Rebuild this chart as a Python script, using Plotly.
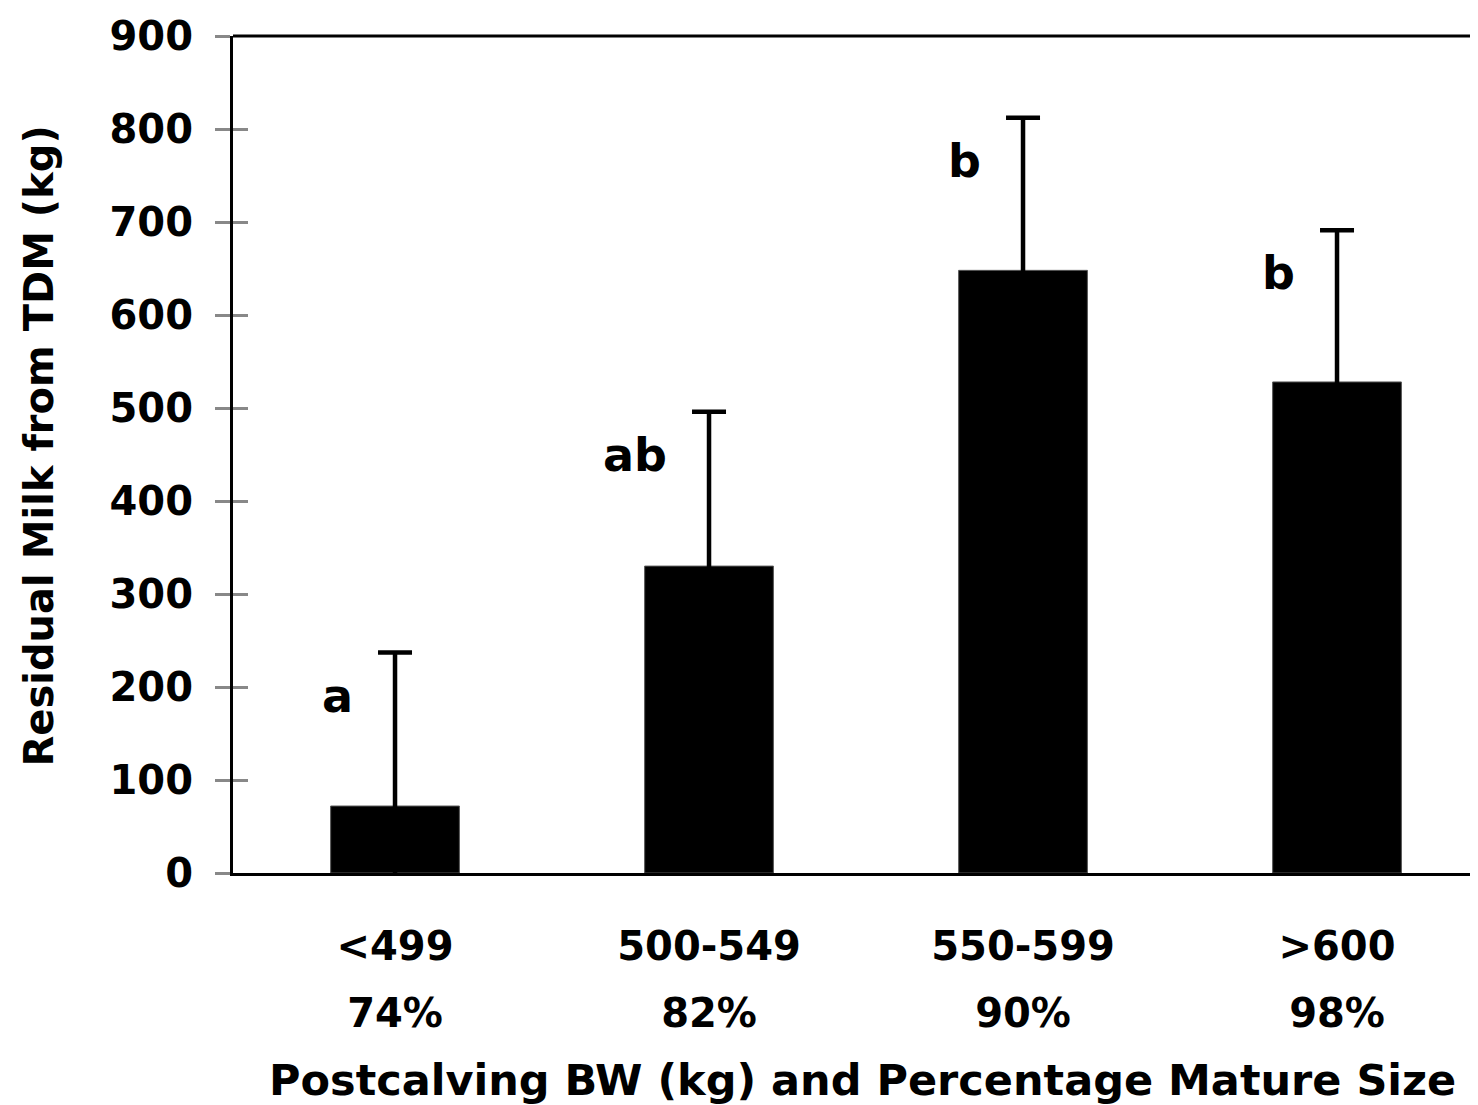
import plotly.graph_objects as go

categories = ["<499", "500-549", "550-599", ">600"]
pct_labels = ["74%", "82%", "90%", "98%"]
means = [72, 330, 648, 528]
se = [165, 166, 164, 163]
letters = ["a", "ab", "b", "b"]

FONT = "DejaVu Sans"
idx = list(range(len(categories)))

fig = go.Figure()
fig.add_trace(go.Bar(
    x=idx, y=means, width=0.41,
    marker=dict(color="black", line=dict(color="#555555", width=1)),
    error_y=dict(type="data", array=se, symmetric=True,
                 color="black", thickness=4.5, width=17),
    showlegend=False,
))
# invisible trace on second x axis for percentage tick row
fig.add_trace(go.Scatter(x=idx, y=means, xaxis="x2", yaxis="y2", mode="markers",
                         marker=dict(opacity=0), showlegend=False, hoverinfo="skip"))

for i, (m, s, l) in enumerate(zip(means, se, letters)):
    fig.add_annotation(x=i, y=m + s, text="<b>%s</b>" % l, showarrow=False,
                       xanchor="right", yanchor="middle", xshift=-40, yshift=-43,
                       font=dict(family=FONT, size=46, color="black"))

fig.add_annotation(xref="paper", yref="paper", x=0.506, y=0, yshift=-207,
                   text="<b>Postcalving BW (kg) and Percentage Mature Size</b>",
                   showarrow=False, xanchor="center", yanchor="middle",
                   font=dict(family=FONT, size=43, color="black"))
fig.add_annotation(xref="paper", yref="paper", x=0, xshift=-195, y=0.5, yshift=8,
                   text="<b>Residual Milk from TDM (kg)</b>", textangle=-90,
                   showarrow=False, xanchor="center", yanchor="middle",
                   font=dict(family=FONT, size=40, color="black"))

xr = [-0.516, 3.449]
fig.update_layout(
    width=1470, height=1097,
    margin=dict(l=225, r=0, t=28, b=232),
    plot_bgcolor="white", paper_bgcolor="white",
    font=dict(family=FONT, color="black"),
    xaxis=dict(range=xr, tickmode="array", tickvals=idx,
               ticktext=["<b>%s</b>" % c for c in categories],
               tickfont=dict(family=FONT, size=40), ticks="",
               showline=True, linecolor="black", linewidth=3, showgrid=False,
               zeroline=False, ticklabelstandoff=36, automargin=False),
    xaxis2=dict(range=xr, overlaying="x", side="bottom", tickmode="array",
                tickvals=idx, ticktext=["<b>%s</b>" % p for p in pct_labels],
                tickfont=dict(family=FONT, size=40), ticks="", showline=False,
                showgrid=False, zeroline=False, ticklabelstandoff=113,
                automargin=False),
    yaxis=dict(range=[0, 900], tickmode="linear", tick0=0, dtick=100,
               tickfont=dict(family=FONT, size=40), ticks="outside", ticklen=15,
               tickwidth=3, tickcolor="#888888", ticklabelstandoff=14,
               showline=True, linecolor="black", linewidth=3, showgrid=False,
               zeroline=False, tickformat="d", automargin=False,
               tickprefix="<b>", ticksuffix="</b>"),
    yaxis2=dict(range=[0, 900], overlaying="y", side="left", tickmode="linear",
                tick0=0, dtick=100, ticks="inside", ticklen=15, tickwidth=3,
                tickcolor="#888888", showticklabels=False, showline=False,
                showgrid=False, zeroline=False, automargin=False),
)
fig.add_shape(type="line", xref="paper", yref="paper", x0=0, x1=1, y0=1, y1=1,
              line=dict(color="black", width=3))
fig.write_html("out.html")
